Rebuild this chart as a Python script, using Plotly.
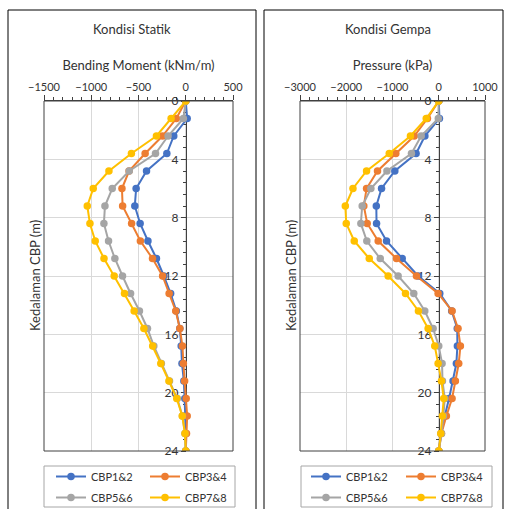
import plotly.graph_objects as go

# ---------------- data ----------------
depth = [0, 1.2, 2.4, 3.6, 4.8, 6.0, 7.2, 8.4, 9.6, 10.8, 12.0,
         13.2, 14.4, 15.6, 16.8, 18.0, 19.2, 20.4, 21.6, 22.8, 24.0]

series_names = ["CBP1&2", "CBP3&4", "CBP5&6", "CBP7&8"]
series_colors = ["#4472C4", "#ED7D31", "#A5A5A5", "#FFC000"]

# Kondisi Statik - Bending Moment (kNm/m)
moment_cbp12 = [0, 15, -127, -200, -415, -525, -539, -483, -400, -310, -232,
                -160, -100, -63, -48, -40, -20, -10, -5, -3, 0]
moment_cbp34 = [0, -100, -246, -430, -600, -675, -668, -573, -480, -352, -245,
                -176, -106, -63, -35, -25, -12, 5, 15, 8, 0]
moment_cbp56 = [0, -25, -187, -320, -598, -778, -855, -866, -817, -750, -669,
                -584, -490, -405, -338, -258, -172, -90, -35, -8, 0]
moment_cbp78 = [0, -155, -310, -575, -813, -979, -1042, -1014, -958, -865, -757,
                -648, -546, -443, -350, -264, -178, -95, -37, -8, 0]

# Kondisi Gempa - Pressure (kPa)
pressure_cbp12 = [0, 15, -300, -490, -950, -1237, -1350, -1345, -1129, -790, -446,
                  22, 280, 400, 403, 381, 309, 223, 130, 50, 0]
pressure_cbp34 = [0, -245, -530, -928, -1324, -1561, -1620, -1547, -1309, -914, -482,
                  -14, 288, 417, 468, 432, 360, 288, 165, 58, 0]
pressure_cbp56 = [0, -10, -380, -590, -1120, -1468, -1655, -1684, -1555, -1265, -878,
                  -540, -302, -122, 0, 72, 80, 130, 100, 60, 0]
pressure_cbp78 = [0, -270, -612, -1070, -1561, -1855, -2020, -2000, -1827, -1503, -1094,
                  -719, -439, -230, -86, -14, 58, 108, 79, 43, 0]

moment_series = [moment_cbp12, moment_cbp34, moment_cbp56, moment_cbp78]
pressure_series = [pressure_cbp12, pressure_cbp34, pressure_cbp56, pressure_cbp78]

left_title = "Kondisi Statik"
right_title = "Kondisi Gempa"
left_xtitle = "Bending Moment (kNm/m)"
right_xtitle = "Pressure (kPa)"
ytitle = "Kedalaman CBP (m)"
left_xrange = [-1500, 500]
right_xrange = [-3000, 1000]
depth_range = [24, 0]

# ---------------- layout helpers ----------------
W, H = 506, 509
FONT = "Lato, 'Open Sans', sans-serif"
TXT = "#333333"


def px(x):
    return x / W


def py(y):
    return 1 - y / H


left_dom = [px(44), px(233)]
right_dom = [px(300), px(485)]
ydom = [py(451), py(101)]


def zero_pos(dom, rng):
    frac = (0 - rng[0]) / (rng[1] - rng[0])
    return dom[0] + frac * (dom[1] - dom[0])


fig = go.Figure()

legend_for_left = ["legend", "legend2", "legend", "legend2"]
legend_for_right = ["legend3", "legend4", "legend3", "legend4"]

for name, col, vals, lg in zip(series_names, series_colors, moment_series, legend_for_left):
    fig.add_trace(go.Scatter(
        x=vals, y=depth, name=name, mode="lines+markers", legendgroup="L" + name,
        line=dict(color=col, width=2), marker=dict(color=col, size=7.5),
        xaxis="x", yaxis="y", legend=lg))

for name, col, vals, lg in zip(series_names, series_colors, pressure_series, legend_for_right):
    fig.add_trace(go.Scatter(
        x=vals, y=depth, name=name, mode="lines+markers", legendgroup="R" + name,
        line=dict(color=col, width=2), marker=dict(color=col, size=7.5),
        xaxis="x2", yaxis="y2", legend=lg))

AX = "#404040"
GRID = "#D9D9D9"
tickfont = dict(family=FONT, size=11, color=TXT)
titlefont = dict(family=FONT, size=13, color=TXT)


def xaxis_main(dom, rng, title, anchor):
    return dict(domain=dom, range=rng, side="top", anchor=anchor,
                dtick=500 if rng[1] - rng[0] == 2000 else 1000, tick0=0,
                showgrid=True, gridcolor=GRID, gridwidth=1, zeroline=False,
                showline=True, linecolor=AX, linewidth=1,
                ticks="outside", ticklen=5, tickcolor=AX,
                minor=dict(dtick=100 if rng[1] - rng[0] == 2000 else 200,
                           ticks="outside", ticklen=3, tickcolor=AX, showgrid=False),
                tickfont=tickfont, title=dict(text=title, font=titlefont, standoff=6),
                automargin=False, layer="below traces", fixedrange=True)


def xaxis_overlay(over, rng, anchor):
    return dict(overlaying=over, range=rng, side="top", anchor=anchor,
                dtick=500 if rng[1] - rng[0] == 2000 else 1000, tick0=0,
                showgrid=False, zeroline=False, showline=False,
                ticks="inside", ticklen=5, tickcolor=AX, showticklabels=False,
                minor=dict(dtick=100 if rng[1] - rng[0] == 2000 else 200,
                           ticks="inside", ticklen=3, tickcolor=AX, showgrid=False),
                automargin=False, layer="below traces", fixedrange=True)


def yaxis_main(pos):
    return dict(domain=ydom, range=depth_range, anchor="free", position=pos,
                dtick=4, tick0=0, showgrid=True, gridcolor=GRID, zeroline=False,
                showline=True, linecolor=AX, linewidth=1,
                ticks="outside", ticklen=5, tickcolor=AX,
                minor=dict(dtick=0.8, tick0=0, ticks="outside", ticklen=3,
                           tickcolor=AX, showgrid=False),
                tickfont=dict(family=FONT, size=12, color=TXT),
                automargin=False, layer="below traces", fixedrange=True)


def yaxis_overlay(over, pos):
    return dict(overlaying=over, range=depth_range, anchor="free", position=pos,
                dtick=4, tick0=0, showgrid=False, zeroline=False, showline=False,
                ticks="inside", ticklen=5, tickcolor=AX, showticklabels=False,
                minor=dict(dtick=0.8, tick0=0, ticks="inside", ticklen=3,
                           tickcolor=AX, showgrid=False),
                automargin=False, layer="below traces", fixedrange=True)


lpos = zero_pos(left_dom, left_xrange)
rpos = zero_pos(right_dom, right_xrange)

fig.update_layout(
    width=W, height=H,
    margin=dict(l=0, r=0, t=0, b=0, autoexpand=False),
    paper_bgcolor="white", plot_bgcolor="white",
    font=dict(family=FONT, color=TXT),
    showlegend=True,
    xaxis=xaxis_main(left_dom, left_xrange, left_xtitle, "y"),
    xaxis2=xaxis_main(right_dom, right_xrange, right_xtitle, "y2"),
    xaxis3=xaxis_overlay("x", left_xrange, "y"),
    xaxis4=xaxis_overlay("x2", right_xrange, "y2"),
    yaxis=yaxis_main(lpos),
    yaxis2=yaxis_main(rpos),
    yaxis3=yaxis_overlay("y", lpos),
    yaxis4=yaxis_overlay("y2", rpos),
)

leg_common = dict(orientation="v", bgcolor="rgba(0,0,0,0)", borderwidth=0,
                  font=dict(family=FONT, size=11, color=TXT), itemwidth=30,
                  tracegroupgap=2, xanchor="left", yanchor="top",
                  xref="paper", yref="paper", itemclick=False, itemdoubleclick=False)
leg_top = py(462)
fig.update_layout(
    legend=dict(leg_common, x=px(51), y=leg_top),
    legend2=dict(leg_common, x=px(145), y=leg_top),
    legend3=dict(leg_common, x=px(306), y=leg_top),
    legend4=dict(leg_common, x=px(401), y=leg_top),
)

shapes = []
# plot-area frames
for xr, yr in (("x domain", "y domain"), ("x2 domain", "y2 domain")):
    shapes.append(dict(type="rect", xref=xr, yref=yr, x0=0, x1=1, y0=0, y1=1,
                       line=dict(color=AX, width=1), layer="above"))
# panel boxes
shapes.append(dict(type="rect", xref="paper", yref="paper", x0=px(8), x1=px(256),
                   y0=py(514), y1=py(10), line=dict(color="#000000", width=1)))
shapes.append(dict(type="rect", xref="paper", yref="paper", x0=px(264), x1=px(503),
                   y0=py(514), y1=py(10), line=dict(color="#000000", width=1)))
# legend boxes
shapes.append(dict(type="rect", xref="paper", yref="paper", x0=px(44), x1=px(235),
                   y0=py(507), y1=py(466), line=dict(color="#A6A6A6", width=1)))
shapes.append(dict(type="rect", xref="paper", yref="paper", x0=px(301), x1=px(492),
                   y0=py(507), y1=py(466), line=dict(color="#A6A6A6", width=1)))
fig.update_layout(shapes=shapes)

ann_common = dict(xref="paper", yref="paper", showarrow=False,
                  xanchor="center", yanchor="middle")
annotations = [
    dict(ann_common, text=left_title, x=px(132), y=py(29),
         font=dict(family=FONT, size=13, color=TXT)),
    dict(ann_common, text=right_title, x=px(388), y=py(29),
         font=dict(family=FONT, size=13, color=TXT)),
    dict(ann_common, text=ytitle, x=px(35), y=py(276), textangle=-90,
         font=dict(family=FONT, size=13, color=TXT)),
    dict(ann_common, text=ytitle, x=px(291), y=py(276), textangle=-90,
         font=dict(family=FONT, size=13, color=TXT)),
]
fig.update_layout(annotations=annotations)

fig.write_html("out.html", config=dict(displayModeBar=False),
               post_script="document.body.style.margin='0';"
                           "document.body.style.overflow='hidden';")
